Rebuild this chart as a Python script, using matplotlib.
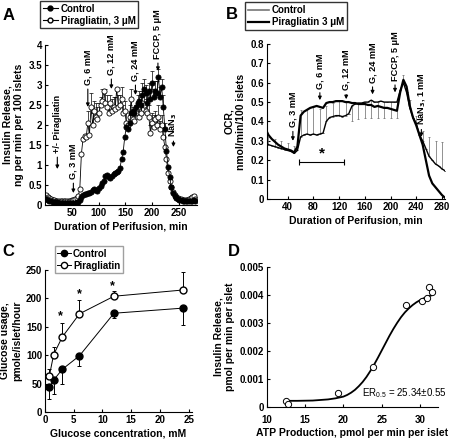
import numpy as np
import matplotlib
matplotlib.use('Agg')
import matplotlib.pyplot as plt
from matplotlib.lines import Line2D

plt.rcParams['font.family'] = ['Liberation Sans', 'DejaVu Sans']
plt.rcParams['font.weight'] = 'bold'
plt.rcParams['axes.labelweight'] = 'bold'
plt.rcParams['font.size'] = 7
plt.rcParams['axes.linewidth'] = 0.8
plt.rcParams['mathtext.fontset'] = 'dejavusans'

# ---- panel A: insulin release during perifusion ----
a_time = np.arange(2, 282, 3)
a_control = [0.15, 0.12, 0.10, 0.09, 0.08, 0.08, 0.07, 0.07, 0.06, 0.06,
             0.06, 0.05, 0.05, 0.05, 0.05, 0.05, 0.06, 0.06, 0.06, 0.07,
             0.08, 0.12, 0.20, 0.25, 0.27, 0.28, 0.30, 0.30, 0.32, 0.38,
             0.40, 0.38, 0.36, 0.42, 0.48, 0.55, 0.60, 0.72, 0.75, 0.70,
             0.68, 0.72, 0.78, 0.80, 0.82, 0.85, 0.92, 1.15, 1.32, 1.70,
             1.95, 1.90, 2.05, 2.30, 2.35, 2.30, 2.45, 2.55, 2.60, 2.50,
             2.75, 2.90, 2.80, 2.55, 2.85, 2.65, 3.05, 2.70, 2.85, 2.80,
             3.20, 2.70, 2.95, 2.45, 1.90, 1.35, 0.95, 0.70, 0.45, 0.30,
             0.22, 0.18, 0.15, 0.13, 0.12, 0.11, 0.10, 0.10, 0.10, 0.10,
             0.10, 0.10, 0.12, 0.10]
a_pira = [0.25, 0.20, 0.17, 0.15, 0.13, 0.12, 0.11, 0.10, 0.10, 0.10,
          0.09, 0.09, 0.09, 0.10, 0.10, 0.10, 0.12, 0.13, 0.15, 0.17,
          0.22, 0.40, 1.28, 1.65, 1.72, 1.70, 2.05, 1.75, 2.45, 2.00,
          2.35, 2.20, 2.15, 2.30, 2.50, 2.60, 2.85, 2.55, 2.45, 2.30,
          2.55, 2.35, 2.45, 2.40, 2.90, 2.45, 2.50, 2.65, 2.30, 2.35,
          2.05, 2.00, 2.20, 2.65, 2.15, 2.10, 2.30, 2.45, 2.20, 2.30,
          2.55, 2.50, 2.35, 2.30, 2.20, 1.80, 2.05, 1.95, 2.15, 2.00,
          2.20, 1.90, 2.00, 1.70, 1.45, 1.15, 0.80, 0.60, 0.45, 0.32,
          0.25, 0.20, 0.17, 0.15, 0.14, 0.13, 0.13, 0.12, 0.13, 0.15,
          0.18, 0.20, 0.22, 0.15]
a_control_err = [0.02] * 58 + [0.25, 0.2, 0.3, 0.25, 0.2, 0.3, 0.2, 0.25,
                               0.3, 0.2, 0.25, 0.3, 0.2, 0.25, 0.2, 0.3,
                               0.15, 0.1] + [0.02] * 18
a_pira_err = [0.02] * 26 + [0.3, 0.25, 0.35, 0.3, 0.25, 0.35, 0.3, 0.25,
                            0.2, 0.3, 0.0, 0.35, 0.3, 0.25, 0.2, 0.3,
                            0.25, 0.3, 0.0, 0.3, 0.25, 0.3, 0.2, 0.25,
                            0.3, 0.0, 0.3, 0.25, 0.3, 0.25, 0.2, 0.3,
                            0.25, 0.2, 0.3, 0.25, 0.3, 0.25, 0.3, 0.2,
                            0.25, 0.3, 0.2, 0.25, 0.3, 0.2, 0.25, 0.2] + [0.02] * 20

# ---- panel B: oxygen consumption ----
b_time = np.arange(5, 290, 5)
b_pira = [0.365, 0.33, 0.31, 0.295, 0.28, 0.27, 0.26, 0.255, 0.25, 0.24,
          0.27, 0.43, 0.45, 0.46, 0.47, 0.475, 0.48, 0.475, 0.47, 0.495,
          0.50, 0.50, 0.505, 0.505, 0.505, 0.50, 0.50, 0.495, 0.495, 0.49,
          0.49, 0.49, 0.485, 0.485, 0.475, 0.48, 0.475, 0.47, 0.47, 0.465,
          0.46, 0.455, 0.55, 0.615, 0.58, 0.48, 0.42, 0.38, 0.33, 0.28,
          0.20, 0.12, 0.08, 0.06, 0.04, 0.02, 0.005]
b_control = [0.29, 0.28, 0.275, 0.27, 0.265, 0.26, 0.255, 0.25, 0.245, 0.235,
             0.25, 0.32, 0.33, 0.335, 0.33, 0.335, 0.33, 0.335, 0.34, 0.40,
             0.42, 0.425, 0.43, 0.43, 0.425, 0.43, 0.44, 0.48, 0.49, 0.495,
             0.495, 0.50, 0.50, 0.51, 0.50, 0.50, 0.505, 0.50, 0.50, 0.50,
             0.50, 0.50, 0.56, 0.60, 0.55, 0.47, 0.42, 0.39, 0.33, 0.30,
             0.26, 0.22, 0.20, 0.18, 0.17, 0.155, 0.145]
b_err_lo = [0, 0, 0, 0, 0, 0, 0, 0, 0, 0, 0, 0, 0, 0, 0, 0, 0, 0, 0, 0,
            0, 0, 0, 0, 0, 0, 0, 0.08, 0, 0.08, 0, 0.08, 0, 0.09, 0, 0.08,
            0, 0.08, 0, 0.08, 0, 0.08, 0, 0, 0, 0, 0, 0, 0, 0, 0, 0, 0, 0,
            0, 0, 0]
b_err_hi = [0, 0.04, 0, 0.04, 0, 0.04, 0, 0.04, 0, 0.04, 0, 0.14, 0, 0.13,
            0, 0.14, 0, 0.13, 0, 0.08, 0, 0.07, 0, 0.08, 0, 0.07, 0, 0, 0,
            0, 0, 0, 0, 0, 0, 0, 0, 0, 0, 0, 0, 0, 0, 0.04, 0, 0.04, 0, 0.04,
            0, 0.05, 0, 0.1, 0, 0.12, 0, 0.14, 0]

# ---- panel C: glucose usage ----
c_glucose = [0.75, 1.5, 3, 6, 12, 24]
c_control = [43, 56, 75, 99, 174, 183]
c_control_err = [20, 25, 25, 18, 9, 30]
c_pira = [63, 101, 132, 173, 204, 215]
c_pira_err = [12, 13, 25, 25, 9, 31]
c_star_x = [2.7, 6.0, 11.7]
c_star_y = [168, 208, 222]

# ---- panel D: insulin release vs ATP production ----
d_atp = [12.5, 12.8, 19.3, 23.8, 28.2, 30.2, 30.9, 31.1, 31.5]
d_ins = [0.0002, 0.0001, 0.0005, 0.00142, 0.00362, 0.00378, 0.00387, 0.00427, 0.00409]
d_fit_x = [12.5, 14, 16, 18, 19, 20, 20.5, 21, 21.5, 22, 22.5, 23, 23.5, 24,
           24.5, 25, 25.5, 26, 26.5, 27, 27.5, 28, 28.5, 29, 29.5, 30, 30.5,
           31, 31.5]
d_fit_y = [0.00022, 0.00022, 0.00023, 0.00027, 0.00031, 0.00037, 0.00043,
           0.00051, 0.00061, 0.00074, 0.00089, 0.00107, 0.00128, 0.00151,
           0.00176, 0.00202, 0.00228, 0.00254, 0.00278, 0.003, 0.0032,
           0.00337, 0.00351, 0.00363, 0.00373, 0.00381, 0.00388, 0.00393,
           0.00398]

fig = plt.figure(figsize=(4.51, 4.40), dpi=100)


def style(ax):
    ax.spines['top'].set_visible(False)
    ax.spines['right'].set_visible(False)
    ax.tick_params(direction='in', length=2.5, width=0.8, labelsize=7, pad=2)


def arrow_label(ax, text, x, tip, base, size=6.6):
    ax.annotate(text, xy=(x, tip), xytext=(x, base), rotation=90,
                ha='center', va='bottom', fontsize=size, fontweight='bold',
                annotation_clip=False,
                arrowprops=dict(arrowstyle='-|>', color='black', lw=0.8,
                                mutation_scale=5, shrinkA=1, shrinkB=0))


# A
axA = fig.add_axes([0.0998, 0.534, 0.337, 0.364])
style(axA)
axA.errorbar(a_time, a_control, yerr=[np.zeros(len(a_control)), a_control_err],
             fmt='none', ecolor='black', elinewidth=0.5, capsize=1.2, capthick=0.5)
axA.errorbar(a_time, a_pira, yerr=[np.zeros(len(a_pira)), a_pira_err],
             fmt='none', ecolor='black', elinewidth=0.5, capsize=1.2, capthick=0.5)
axA.plot(a_time, a_pira, '-o', color='black', mfc='white', mec='black',
         ms=3.7, mew=0.6, lw=0.6, label='Piragliatin, 3 \u03bcM')
axA.plot(a_time, a_control, '-o', color='black', mfc='black', mec='black',
         ms=3.7, mew=0.6, lw=0.6, label='Control')
axA.set_xlim(0, 284)
axA.set_ylim(0, 4)
axA.set_xticks([50, 100, 150, 200, 250])
axA.set_yticks(np.arange(0, 4.01, 0.5))
axA.set_yticklabels(['0', '0.5', '1', '1.5', '2', '2.5', '3', '3.5', '4'])
axA.set_xlabel('Duration of Perifusion, min', fontsize=7.5, labelpad=3)
axA.set_ylabel('Insulin Release,\nng per min per 100 islets', fontsize=7.5, labelpad=3)
arrow_label(axA, '+/- Piragliatin', 23, 0.9, 1.3)
arrow_label(axA, 'G, 3 mM', 53, 0.3, 0.65)
arrow_label(axA, 'G, 6 mM', 80, 2.45, 3.0)
arrow_label(axA, 'G, 12 mM', 124, 2.9, 3.25)
arrow_label(axA, 'G, 24 mM', 169, 2.75, 3.1)
arrow_label(axA, 'FCCP, 5 \u03bcM', 211, 3.35, 3.65)
arrow_label(axA, r'NaN$_{\mathbf{3}}$', 240, 1.45, 1.7)
hA = [Line2D([], [], color='black', marker='o', mfc='black', ms=3.5, lw=0.8),
      Line2D([], [], color='black', marker='o', mfc='white', ms=3.5, lw=0.8)]
fig.legend(hA, ['Control', 'Piragliatin, 3 \u03bcM'], loc='upper left',
           bbox_to_anchor=(0.089, 0.997), frameon=True, fancybox=False,
           edgecolor='black', fontsize=7, handlelength=1.6, handletextpad=0.3,
           borderpad=0.25, labelspacing=0.2, borderaxespad=0)

# B
axB = fig.add_axes([0.591, 0.548, 0.396, 0.352])
style(axB)
axB.errorbar(b_time, b_control, yerr=[b_err_lo, b_err_hi], fmt='none',
             ecolor='#666666', elinewidth=0.5, capsize=1.0, capthick=0.5)
axB.plot(b_time, b_control, color='black', lw=1.0)
axB.plot(b_time, b_pira, color='black', lw=1.6)
axB.set_xlim(7, 285)
axB.set_ylim(0, 0.8)
axB.set_xticks([40, 80, 120, 160, 200, 240, 280])
axB.set_yticks(np.arange(0, 0.81, 0.1))
axB.set_yticklabels(['0', '0.1', '0.2', '0.3', '0.4', '0.5', '0.6', '0.7', '0.8'])
axB.set_xlabel('Duration of Perifusion, min', fontsize=7.5, labelpad=3)
axB.set_ylabel('OCR,\nnmol/min/100 islets', fontsize=7.5, labelpad=3)
arrow_label(axB, 'G, 3 mM', 48, 0.3, 0.37)
arrow_label(axB, 'G, 6 mM', 90, 0.51, 0.57)
arrow_label(axB, 'G, 12 mM', 131, 0.515, 0.56)
arrow_label(axB, 'G, 24 mM', 172, 0.54, 0.6)
arrow_label(axB, 'FCCP, 5 \u03bcM', 207, 0.55, 0.61)
arrow_label(axB, r'NaN$_{\mathbf{3}}$, 1 mM', 248, 0.32, 0.38)
axB.errorbar([93], [0.19], xerr=[[35], [35]], fmt='none', ecolor='black',
             elinewidth=0.8, capsize=2, capthick=0.8)
axB.text(93, 0.2, '*', ha='center', va='bottom', fontsize=11)
hB = [Line2D([], [], color='#777777', lw=1.2),
      Line2D([], [], color='black', lw=1.6)]
fig.legend(hB, ['Control', 'Piragliatin 3 \u03bcM'], loc='upper left',
           bbox_to_anchor=(0.543, 0.995), frameon=True, fancybox=False,
           edgecolor='black', fontsize=7, handlelength=2.2, handletextpad=0.3,
           borderpad=0.3, labelspacing=0.2, borderaxespad=0)

# C
axC = fig.add_axes([0.0998, 0.064, 0.325, 0.322])
style(axC)
axC.errorbar(c_glucose, c_control, yerr=[c_control_err, np.zeros(6)], fmt='-o',
             color='black', mfc='black', ms=5, lw=0.7, elinewidth=0.7,
             capsize=1.5, capthick=0.7)
axC.errorbar(c_glucose, c_pira, yerr=[np.zeros(6), c_pira_err], fmt='-o',
             color='black', mfc='white', ms=5, lw=0.7, elinewidth=0.7,
             capsize=1.5, capthick=0.7)
for sx, sy in zip(c_star_x, c_star_y):
    axC.text(sx, sy, '*', ha='center', va='center', fontsize=9)
axC.set_xlim(0, 25.5)
axC.set_ylim(0, 250)
axC.set_xticks([0, 5, 10, 15, 20, 25])
axC.set_yticks([0, 50, 100, 150, 200, 250])
axC.set_xlabel('Glucose concentration, mM', fontsize=7.5, labelpad=3)
axC.set_ylabel('Glucose usage,\npmole/islet/hour', fontsize=7.5, labelpad=3)
hC = [Line2D([], [], color='black', marker='o', mfc='black', ms=4.5, lw=0.7),
      Line2D([], [], color='black', marker='o', mfc='white', ms=4.5, lw=0.7)]
fig.legend(hC, ['Control', 'Piragliatin'], loc='upper left',
           bbox_to_anchor=(0.122, 0.44), frameon=True, fancybox=False,
           edgecolor='#888888', fontsize=7, handlelength=1.4, handletextpad=0.2,
           borderpad=0.25, labelspacing=0.2, borderaxespad=0)

# D
axD = fig.add_axes([0.591, 0.075, 0.38, 0.319])
style(axD)
axD.plot(d_fit_x, d_fit_y, color='black', lw=1.3)
axD.plot(d_atp, d_ins, 'o', mfc='white', mec='black', ms=4.5, mew=0.7)
axD.text(22.4, 0.0005, r'ER$_\mathregular{0.5}$ = 25.34$\mathregular{\pm}$0.55',
         fontsize=7, fontweight='normal', ha='left', va='center')
axD.set_xlim(10, 32.3)
axD.set_ylim(0, 0.005)
axD.set_xticks([10, 15, 20, 25, 30])
axD.set_yticks([0, 0.001, 0.002, 0.003, 0.004, 0.005])
axD.set_yticklabels(['0', '0.001', '0.002', '0.003', '0.004', '0.005'])
axD.tick_params(axis='x', pad=6)
axD.set_xlabel('ATP Production, pmol per min per islet', fontsize=7.5, labelpad=2)
axD.set_ylabel('Insulin Release,\npmol per min per islet', fontsize=7.5, labelpad=3)

for letter, x, y in [('A', 0.005, 0.965), ('B', 0.5, 0.968), ('C', 0.005, 0.428), ('D', 0.505, 0.428)]:
    fig.text(x, y, letter, fontsize=12, fontweight='bold', ha='left', va='center')

fig.savefig('out.png', dpi=100)
